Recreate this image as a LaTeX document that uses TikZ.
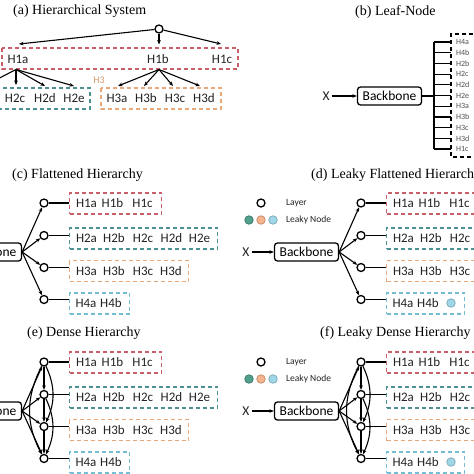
\documentclass[tikz,border=0pt]{standalone}
\usepackage{fontspec}
\setmainfont{Liberation Serif}
\newfontfamily\labfont{Carlito}
\usetikzlibrary{arrows.meta}
\definecolor{cred}{RGB}{200,95,105}
\definecolor{cteal}{RGB}{75,145,145}
\definecolor{corange}{RGB}{232,168,120}
\definecolor{cblue}{RGB}{115,190,210}
\definecolor{fteal}{RGB}{80,160,140}
\definecolor{forange}{RGB}{245,180,140}
\definecolor{fblue}{RGB}{160,215,232}
\definecolor{txt}{RGB}{35,35,35}
\tikzset{
  lay/.style={circle, draw, fill=white, line width=1.3pt, minimum size=8pt, inner sep=0pt},
  leaky/.style={circle, draw=#1!80!black, fill=#1, line width=0.8pt, minimum size=8.5pt, inner sep=0pt},
  lbl/.style={font=\labfont\fontsize{13}{13}\selectfont, inner sep=0pt, text=txt},
  small/.style={font=\labfont\fontsize{8}{8}\selectfont, inner sep=0pt, text=txt!80, anchor=west},
  legtxt/.style={font=\labfont\fontsize{9.5}{9.5}\selectfont, inner sep=0pt, text=txt, anchor=west},
  ttl/.style={font=\fontsize{14}{14}\selectfont, inner sep=0pt, anchor=west},
  bb/.style={draw, rounded corners=3pt, line width=1.3pt, minimum width=64pt, minimum height=18pt,
             font=\labfont\fontsize{13.5}{13.5}\selectfont, inner sep=0pt},
  arr/.style={-{Stealth[length=4.5pt,width=3.6pt]}, line width=1.1pt},
  ln/.style={line width=1.2pt},
  hb/.style={draw=#1, dash pattern=on 4pt off 3pt, line width=1.2pt, inner sep=0pt},
  hbn/.style={hb=#1, minimum height=21pt, anchor=west},
}
% flattened-type panel: prefix, dx, dy, box widths
\newcommand{\drawpanel}[7]{%
\begin{scope}[shift={(#2,#3)}]
  \node[bb] (#1bb) at (306.5,252) {Backbone};
  \node[lay] (#1c1) at (361,203) {};
  \node[lay] (#1c2) at (361,235.5) {};
  \node[lay] (#1c3) at (361,267.5) {};
  \node[lay] (#1c4) at (361,299.5) {};
  \node[hbn=cred, minimum width=#4pt] (#1B1) at (386,203.5) {};
  \node[hbn=cteal, minimum width=#5pt] (#1B2) at (386,238.5) {};
  \node[hbn=corange, minimum width=#6pt] (#1B3) at (386,271) {};
  \node[hbn=cblue, minimum width=#7pt] (#1B4) at (386,303.5) {};
  \node[lbl] (#1t1a) at (403.5,203.5) {H1a};
  \node[lbl] (#1t1b) at (429.5,203.5) {H1b};
  \node[lbl] (#1t1c) at (459.5,203.5) {H1c};
  \node[lbl] (#1t2a) at (403.5,238.5) {H2a};
  \node[lbl] (#1t2b) at (431,238.5) {H2b};
  \node[lbl] (#1t2c) at (460,238.5) {H2c};
  \node[lbl] (#1t2d) at (488.5,238.5) {H2d};
  \node[lbl] (#1t2e) at (516.5,238.5) {H2e};
  \node[lbl] (#1t3a) at (403.5,271) {H3a};
  \node[lbl] (#1t3b) at (431,271) {H3b};
  \node[lbl] (#1t3c) at (460,271) {H3c};
  \node[lbl] (#1t3d) at (488,271) {H3d};
  \node[lbl] (#1t4a) at (403,303.5) {H4a};
  \node[lbl] (#1t4b) at (428,303.5) {H4b};
  \foreach \i in {1,2,3,4} {\draw[ln] (#1c\i) -- (#1c\i -| #1B\i.west);}
  \foreach \i in {1,2,3,4} {\draw[arr] (#1bb.east) -- (#1c\i);}
\end{scope}}
\newcommand{\drawdense}[1]{%
  \draw[arr] (#1c1) -- (#1c2);
  \draw[arr] (#1c2) -- (#1c3);
  \draw[arr] (#1c3) -- (#1c4);
  \draw[arr] (#1c1) to[bend left=25] (#1c3);
  \draw[arr] (#1c2) to[bend left=25] (#1c4);
  \draw[arr] (#1c1) to[bend right=28] (#1c4);}
\newcommand{\drawleaky}[2]{%
\begin{scope}[shift={(0,#2)}]
  \node[lay] (#1L0) at (261,203) {};
  \node[legtxt] (#1Lt0) at (286,203) {Layer};
  \node[leaky=fteal] (#1L1) at (249,220) {};
  \node[leaky=forange] (#1L2) at (261,220) {};
  \node[leaky=fblue] (#1L3) at (273,220) {};
  \node[legtxt] (#1Lt1) at (286,220) {Leaky Node};
  \node[lbl, font=\labfont\fontsize{13.5}{13.5}\selectfont] (#1X) at (246,252) {X};
  \draw[arr] (#1X.east) ++(2,0) coordinate (#1Xs) (#1Xs) -- (#1bb.west);
  \node[leaky=fblue] (#1Lb) at (451,303) {};
\end{scope}}
\begin{document}
\begin{tikzpicture}[x=1pt,y=-1pt]
\useasboundingbox (0,0) rectangle (474,474);
\clip (0,0) rectangle (474,474);
% ---------------- (a)
\node[ttl] (ta) at (13,11) {(a) Hierarchical System};
\node[lay] (root) at (159,29) {};
\coordinate (a1) at (19,44);
\coordinate (a2) at (159,44.5);
\coordinate (a3) at (221,44);
\draw[arr] (root) -- (a1);
\draw[arr] (root) -- (a2);
\draw[arr] (root) -- (a3);
\draw[hb=cred] (2,48) rectangle (238,69);
\node[lbl] (h1a) at (18,59.5) {H1a};
\node[lbl] (h1b) at (158,59.5) {H1b};
\node[lbl] (h1c) at (222,59.5) {H1c};
\coordinate (p1) at (16,69.5);
\coordinate (p2) at (159,69.5);
\coordinate (q0) at (-14,85);
\coordinate (q1) at (16,85);
\coordinate (q2) at (45,86);
\coordinate (q3) at (74,86);
\draw[arr] (p1) -- (q0);
\draw[arr] (p1) -- (q1);
\draw[arr] (p1) -- (q2);
\draw[arr] (p1) -- (q3);
\draw[hb=cteal] (-100,88) rectangle (90,109);
\node[lbl] (h2c) at (15,98.5) {H2c};
\node[lbl] (h2d) at (45,98.5) {H2d};
\node[lbl] (h2e) at (74,98.5) {H2e};
\node[lbl, font=\labfont\fontsize{10}{10}\selectfont, text=corange!90!black] (h3) at (99,80) {H3};
\coordinate (r1) at (118,86);
\coordinate (r2) at (144,86);
\coordinate (r3) at (173,86);
\coordinate (r4) at (200,86);
\draw[arr] (p2) -- (r1);
\draw[arr] (p2) -- (r2);
\draw[arr] (p2) -- (r3);
\draw[arr] (p2) -- (r4);
\draw[hb=corange] (101,88) rectangle (221,109);
\node[lbl] (h3a) at (117,98.5) {H3a};
\node[lbl] (h3b) at (146,98.5) {H3b};
\node[lbl] (h3c) at (175,98.5) {H3c};
\node[lbl] (h3d) at (204,98.5) {H3d};
% ---------------- (b)
\node[ttl] (tb) at (355,12) {(b) Leaf-Node};
\node[lbl, font=\labfont\fontsize{13.5}{13.5}\selectfont] (bx) at (326,96) {X};
\node[bb] (bbb) at (389.5,96) {Backbone};
\draw[arr] ([xshift=2pt]bx.east) -- (bbb.west);
\coordinate (bj) at (434,96);
\draw[ln] (bbb.east) -- (bj);
\draw[ln] (434,42) -- (434,149);
\foreach \t [count=\i from 0] in {H4a,H4b,H2b,H2c,H2d,H2e,H3a,H3b,H3c,H3d,H1c} {
  \draw[ln] (434,42+\i*10.7) -- (451,42+\i*10.7);
  \node[small] (leaf\i) at (456,42+\i*10.7) {\t};
}
\draw[dash pattern=on 4pt off 3pt, line width=1.2pt] (480,34) -- (451,34) -- (451,157) -- (480,157);
% ---------------- (c) (d)
\node[ttl] (tc) at (12,175) {(c) Flattened Hierarchy};
\node[ttl] (td) at (311,175) {(d) Leaky Flattened Hierarchy};
\drawpanel{c}{-317}{0}{92}{148}{119}{60}
\drawpanel{d}{0}{0}{160}{200}{170}{78}
\drawleaky{d}{0}
% ---------------- (e) (f)
\node[ttl] (te) at (27,333) {(e) Dense Hierarchy};
\node[ttl] (tf) at (320,333) {(f) Leaky Dense Hierarchy};
\drawpanel{e}{-317}{159}{92}{148}{119}{60}
\drawpanel{f}{0}{159}{160}{200}{170}{78}
\drawdense{e}
\drawdense{f}
\drawleaky{f}{159}
\end{tikzpicture}
\end{document}
